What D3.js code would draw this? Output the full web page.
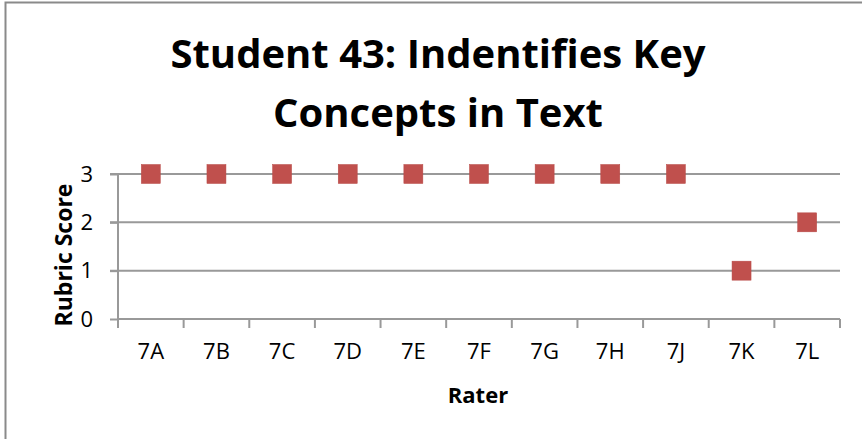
<!DOCTYPE html>
<html><head><meta charset="utf-8">
<script src="https://cdn.jsdelivr.net/npm/d3@7"></script>
<style>body{margin:0;background:#fff}svg{display:block}</style>
</head><body>
<svg id="c" width="862" height="439"></svg>
<script>
const raters = ["7A","7B","7C","7D","7E","7F","7G","7H","7J","7K","7L"];
const scores = [3,3,3,3,3,3,3,3,3,1,2];
const yTicks = [0,1,2,3];
const titleLines = ["Student 43: Indentifies Key","Concepts in Text"];

const svg = d3.select("#c");
const font = "'Open Sans', sans-serif";
const L=118, R=840, T=174, B=319;

svg.append("rect").attr("x",5.5).attr("y",2.5).attr("width",900).attr("height",500)
  .attr("fill","none").attr("stroke","#8a8a8a").attr("stroke-width",2);

const x = d3.scaleBand().domain(raters).range([L,R]);
const y = d3.scaleLinear().domain([0,3]).range([B,T]);

svg.append("g").selectAll("line").data(yTicks.filter(d=>d>0)).join("line")
  .attr("x1",L-8).attr("x2",R).attr("y1",d=>y(d)).attr("y2",d=>y(d))
  .attr("stroke","#999").attr("stroke-width",2);

const ya = svg.append("g").attr("transform",`translate(${L},0)`)
  .call(d3.axisLeft(y).tickValues(yTicks).tickFormat(d3.format("d")).tickSize(8).tickPadding(17));
ya.select(".domain").attr("stroke","#999").attr("stroke-width",2).attr("d",`M0,${T}V${B}`);
ya.selectAll(".tick line").attr("stroke","#999").attr("stroke-width",2);
ya.selectAll("text").attr("font-family",font).attr("font-size",22).attr("fill","#000");

const xa = svg.append("g").attr("transform",`translate(0,${B})`)
  .call(d3.axisBottom(x).tickSize(0).tickPadding(24));
xa.select(".domain").attr("stroke","#999").attr("stroke-width",2).attr("d",`M${L},0H${R}`);
xa.selectAll("text").attr("font-family",font).attr("font-size",22).attr("fill","#000");
const bounds = raters.map(r=>x(r)).concat([R]);
xa.selectAll(".bt").data(bounds).join("line").attr("class","bt")
  .attr("x1",d=>d).attr("x2",d=>d).attr("y1",0).attr("y2",9)
  .attr("stroke","#999").attr("stroke-width",2);

const s = 19;
svg.append("g").selectAll("rect").data(raters.map((r,i)=>({r,v:scores[i]}))).join("rect")
  .attr("x",d=>x(d.r)+x.bandwidth()/2-s/2).attr("y",d=>y(d.v)-s/2)
  .attr("width",s).attr("height",s).attr("fill","#C0504D").attr("stroke","#B84A47").attr("stroke-width",0.5);

svg.append("g").selectAll("text").data(titleLines).join("text")
  .attr("x",438).attr("y",(d,i)=>68+i*59).attr("text-anchor","middle")
  .attr("font-family",font).attr("font-weight","bold").attr("font-size",40).attr("fill","#000").text(d=>d);

svg.append("text").attr("x",478).attr("y",403).attr("text-anchor","middle")
  .attr("font-family",font).attr("font-weight","bold").attr("font-size",22).text("Rater");
svg.append("text").attr("transform","translate(72,255) rotate(-90)").attr("text-anchor","middle")
  .attr("font-family",font).attr("font-weight","bold").attr("font-size",23).text("Rubric Score");
</script>
</body></html>
